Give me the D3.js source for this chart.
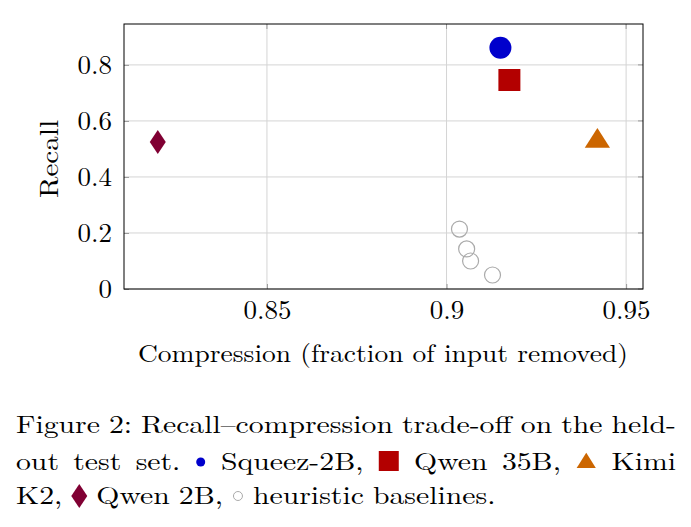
<!DOCTYPE html>
<html>
<head>
<meta charset="utf-8">
<script src="https://cdn.jsdelivr.net/npm/d3@7"></script>
<style>
  body { margin: 0; background: #fff; }
  text { font-family: "Latin Modern Roman", "Liberation Serif", "DejaVu Serif", serif; fill: #000; }
</style>
</head>
<body>
<div id="chart"></div>
<script>

// data
var models = ["Squeez-2B", "Qwen 35B", "Kimi K2", "Qwen 2B"]
var modelCompression = [0.915, 0.9175, 0.942, 0.8196]
var modelRecall = [0.861, 0.746, 0.532, 0.525]
var modelShapes = ["circle", "square", "triangle", "diamond"]
var modelColors = ["#0000cc", "#b30000", "#cc6600", "#800033"]

var baselineCompression = [0.9036, 0.9056, 0.9067, 0.9128]
var baselineRecall = [0.214, 0.143, 0.100, 0.050]

var xTicks = [0.85, 0.9, 0.95]
var yTicks = [0, 0.2, 0.4, 0.6, 0.8]

var captionLines = [
    "Figure 2: Recall\u2013compression trade-off on the held-",
    "out test set. {0} Squeez-2B, {1} Qwen 35B, {2} Kimi",
    "K2, {3} Qwen 2B, {4} heuristic baselines."
]

var W = 691, H = 527
var m = {left: 124, right: 48, top: 24, bottom: 238}
var w = W - m.left - m.right,
    h = H - m.top - m.bottom

var svg = d3.select("#chart").append("svg")
    .attr("width", W)
    .attr("height", H)

var x = d3.scaleLinear().domain([0.8102, 0.9547]).range([0, w])
var y = d3.scaleLinear().domain([0, 0.946]).range([h, 0])

var g = svg.append("g")
    .attr("transform", "translate(" + m.left + "," + m.top + ")")

// grid
g.append("g").selectAll("line")
    .data(xTicks).enter().append("line")
    .attr("x1", function (d) { return x(d) })
    .attr("x2", function (d) { return x(d) })
    .attr("y1", 0).attr("y2", h)
    .attr("stroke", "#d4d4d4").attr("stroke-width", 1)

g.append("g").selectAll("line")
    .data(yTicks).enter().append("line")
    .attr("y1", function (d) { return y(d) })
    .attr("y2", function (d) { return y(d) })
    .attr("x1", 0).attr("x2", w)
    .attr("stroke", "#d4d4d4").attr("stroke-width", 1)

// axes
var xAxis = d3.axisBottom(x).tickValues(xTicks).tickSize(-5).tickFormat(d3.format("~g"))
var yAxis = d3.axisLeft(y).tickValues(yTicks).tickSize(-5).tickFormat(d3.format("~g"))

var gx = g.append("g").attr("transform", "translate(0," + h + ")").call(xAxis)
gx.select(".domain").remove()
gx.selectAll("line").attr("stroke", "#999")
gx.selectAll("text").attr("font-size", 27).attr("y", 30).attr("dy", 0).attr("font-family", null)

var gy = g.append("g").call(yAxis)
gy.select(".domain").remove()
gy.selectAll("line").attr("stroke", "#999")
gy.selectAll("text").attr("font-size", 27).attr("x", -12).attr("dy", "0.33em").attr("font-family", null)

// ticks mirrored on top / right
g.append("g").selectAll("line").data(xTicks).enter().append("line")
    .attr("x1", function (d) { return x(d) }).attr("x2", function (d) { return x(d) })
    .attr("y1", 0).attr("y2", 5).attr("stroke", "#999")
g.append("g").selectAll("line").data(yTicks).enter().append("line")
    .attr("y1", function (d) { return y(d) }).attr("y2", function (d) { return y(d) })
    .attr("x1", w).attr("x2", w - 5).attr("stroke", "#999")

g.append("rect")
    .attr("width", w).attr("height", h)
    .attr("fill", "none").attr("stroke", "#000").attr("stroke-width", 1)

// markers
function shapePath(shape, s) {
    switch (shape) {
        case "circle":
            return d3.symbol().type(d3.symbolCircle).size(Math.PI * s * s)()
        case "square":
            return "M" + (-s) + "," + (-s) + "h" + (2 * s) + "v" + (2 * s) + "h" + (-2 * s) + "Z"
        case "triangle":
            return "M0," + (-s * 1.15) + "L" + (s * 1.2) + "," + (s * 0.75) + "L" + (-s * 1.2) + "," + (s * 0.75) + "Z"
        case "diamond":
            return "M0," + (-s * 1.2) + "L" + (s * 0.8) + ",0L0," + (s * 1.2) + "L" + (-s * 0.8) + ",0Z"
    }
}
var markerSize = [11, 11, 10.5, 10]

g.append("g").selectAll("circle")
    .data(baselineCompression).enter().append("circle")
    .attr("cx", function (d) { return x(d) })
    .attr("cy", function (d, i) { return y(baselineRecall[i]) })
    .attr("r", 8)
    .attr("fill", "none")
    .attr("stroke", "#aaaaaa")
    .attr("stroke-width", 1.2)

g.append("g").selectAll("path")
    .data(models).enter().append("path")
    .attr("transform", function (d, i) {
        return "translate(" + x(modelCompression[i]) + "," + y(modelRecall[i]) + ")"
    })
    .attr("d", function (d, i) { return shapePath(modelShapes[i], markerSize[i]) })
    .attr("fill", function (d, i) { return modelColors[i] })

// axis titles (stretched a little: the original face is wider than Times)
svg.append("text")
    .attr("x", 383).attr("y", 362)
    .attr("text-anchor", "middle").attr("font-size", 25)
    .attr("textLength", 490).attr("lengthAdjust", "spacingAndGlyphs")
    .text("Compression (fraction of input removed)")

svg.append("text")
    .attr("transform", "translate(58,159) rotate(-90)")
    .attr("text-anchor", "middle").attr("font-size", 26)
    .attr("textLength", 78).attr("lengthAdjust", "spacingAndGlyphs")
    .text("Recall")

// caption, justified like the TeX paragraph
var capLeft = 16, capRight = 676, capSize = 25
var baselines = [433, 470, 504]
var legendGlyph = [
    {shape: "circle", color: modelColors[0], s: 4.5},
    {shape: "square", color: modelColors[1], s: 10},
    {shape: "triangle", color: modelColors[2], s: 8},
    {shape: "diamond", color: modelColors[3], s: 10},
    {shape: "open", color: "#aaaaaa", s: 4.5}
]
var wordGap = capSize * 0.36

var lines = captionLines.map(function (line) {
    var items = []
    line.split(" ").forEach(function (wd) {
        var mt = /^\{(\d)\}$/.exec(wd)
        if (mt) {
            var gl = legendGlyph[+mt[1]]
            var gw = gl.shape === "circle" || gl.shape === "open" ? 12 : (gl.shape === "diamond" ? 16 : 22)
            items.push({glyph: gl, width: gw})
        } else {
            var t = svg.append("text").attr("font-size", capSize).text(wd)
            items.push({text: t, width: t.node().getComputedTextLength()})
        }
    })
    return items
})

// horizontal stretch taken from the first line, set with plain word gaps
var firstItems = lines[0]
var textW = 0
firstItems.forEach(function (it) { textW += it.width })
var k = (capRight - capLeft - wordGap * (firstItems.length - 1)) / textW

lines.forEach(function (items, li) {
    var total = 0
    items.forEach(function (it) {
        if (it.text) {
            it.width = it.width * k
            it.text.attr("textLength", it.width).attr("lengthAdjust", "spacingAndGlyphs")
        }
        total += it.width
    })
    var last = li === lines.length - 1
    var gap = last ? wordGap : (capRight - capLeft - total) / (items.length - 1)
    var cx = capLeft
    var by = baselines[li]
    items.forEach(function (it) {
        if (it.text) {
            it.text.attr("x", cx).attr("y", by)
        } else {
            var gl = it.glyph
            var gcx = cx + it.width / 2, gcy = by - 8
            if (gl.shape === "open") {
                svg.append("circle").attr("cx", gcx).attr("cy", gcy).attr("r", gl.s)
                    .attr("fill", "none").attr("stroke", gl.color).attr("stroke-width", 1)
            } else if (gl.shape === "square") {
                svg.append("path").attr("transform", "translate(" + gcx + "," + (gcy - 1) + ")")
                    .attr("d", shapePath("square", gl.s)).attr("fill", gl.color)
            } else {
                svg.append("path").attr("transform", "translate(" + gcx + "," + gcy + ")")
                    .attr("d", shapePath(gl.shape, gl.s)).attr("fill", gl.color)
            }
        }
        cx += it.width + gap
    })
})
</script>
</body>
</html>
